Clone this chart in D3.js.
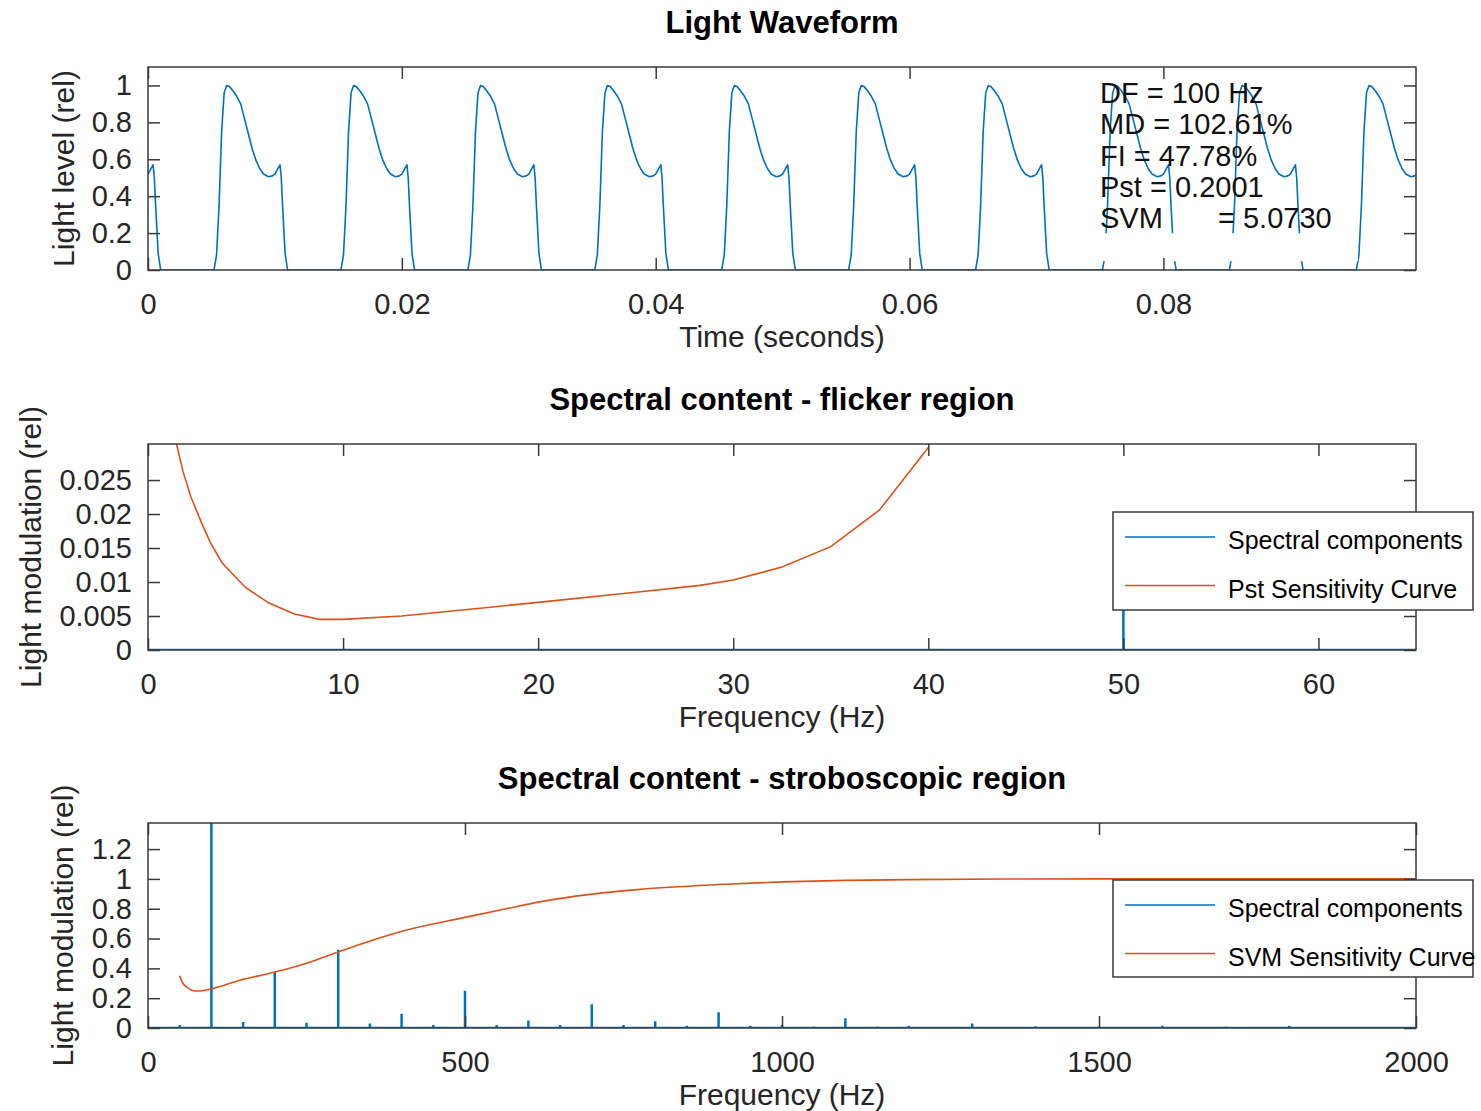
<!DOCTYPE html>
<html>
<head>
<meta charset="utf-8">
<script src="https://cdn.jsdelivr.net/npm/d3@7"></script>
<style>
  body { margin: 0; background: #fff; }
  svg { display: block; }
  text { font-family: "Liberation Sans", Arial, Helvetica, sans-serif; }
</style>
</head>
<body>
<svg id="chart" width="1481" height="1111"></svg>
<script>
// ---------- Light waveform (time in ms, level relative) ----------
const waveTimeMs = [
  0.0,0.2,0.4,0.5,0.6,0.8,1.0,5.2,5.4,5.6,5.8,6.0,6.2,6.4,6.7,7.0,7.3,7.6,7.9,8.2,8.5,8.8,9.1,9.5,9.8,
  10.0,10.2,10.4,10.5,10.6,10.8,11.0,15.2,15.4,15.6,15.8,16.0,16.2,16.4,16.7,17.0,17.3,17.6,17.9,18.2,18.5,18.8,19.1,19.5,19.8,
  20.0,20.2,20.4,20.5,20.6,20.8,21.0,25.2,25.4,25.6,25.8,26.0,26.2,26.4,26.7,27.0,27.3,27.6,27.9,28.2,28.5,28.8,29.1,29.5,29.8,
  30.0,30.2,30.4,30.5,30.6,30.8,31.0,35.2,35.4,35.6,35.8,36.0,36.2,36.4,36.7,37.0,37.3,37.6,37.9,38.2,38.5,38.8,39.1,39.5,39.8,
  40.0,40.2,40.4,40.5,40.6,40.8,41.0,45.2,45.4,45.6,45.8,46.0,46.2,46.4,46.7,47.0,47.3,47.6,47.9,48.2,48.5,48.8,49.1,49.5,49.8,
  50.0,50.2,50.4,50.5,50.6,50.8,51.0,55.2,55.4,55.6,55.8,56.0,56.2,56.4,56.7,57.0,57.3,57.6,57.9,58.2,58.5,58.8,59.1,59.5,59.8,
  60.0,60.2,60.4,60.5,60.6,60.8,61.0,65.2,65.4,65.6,65.8,66.0,66.2,66.4,66.7,67.0,67.3,67.6,67.9,68.2,68.5,68.8,69.1,69.5,69.8,
  70.0,70.2,70.4,70.5,70.6,70.8,71.0,75.2,75.4,75.6,75.8,76.0,76.2,76.4,76.7,77.0,77.3,77.6,77.9,78.2,78.5,78.8,79.1,79.5,79.8,
  80.0,80.2,80.4,80.5,80.6,80.8,81.0,85.2,85.4,85.6,85.8,86.0,86.2,86.4,86.7,87.0,87.3,87.6,87.9,88.2,88.5,88.8,89.1,89.5,89.8,
  90.0,90.2,90.4,90.5,90.6,90.8,91.0,95.2,95.4,95.6,95.8,96.0,96.2,96.4,96.7,97.0,97.3,97.6,97.9,98.2,98.5,98.8,99.1,99.5,99.8,
  99.9
];
const waveLevel = [
  0.52,0.545,0.57,0.50,0.35,0.09,0,0,0.08,0.35,0.75,0.96,1.0,0.995,0.97,0.94,0.90,0.82,0.74,0.66,0.595,0.55,0.52,0.505,0.51,
  0.52,0.545,0.57,0.50,0.35,0.09,0,0,0.08,0.35,0.75,0.96,1.0,0.995,0.97,0.94,0.90,0.82,0.74,0.66,0.595,0.55,0.52,0.505,0.51,
  0.52,0.545,0.57,0.50,0.35,0.09,0,0,0.08,0.35,0.75,0.96,1.0,0.995,0.97,0.94,0.90,0.82,0.74,0.66,0.595,0.55,0.52,0.505,0.51,
  0.52,0.545,0.57,0.50,0.35,0.09,0,0,0.08,0.35,0.75,0.96,1.0,0.995,0.97,0.94,0.90,0.82,0.74,0.66,0.595,0.55,0.52,0.505,0.51,
  0.52,0.545,0.57,0.50,0.35,0.09,0,0,0.08,0.35,0.75,0.96,1.0,0.995,0.97,0.94,0.90,0.82,0.74,0.66,0.595,0.55,0.52,0.505,0.51,
  0.52,0.545,0.57,0.50,0.35,0.09,0,0,0.08,0.35,0.75,0.96,1.0,0.995,0.97,0.94,0.90,0.82,0.74,0.66,0.595,0.55,0.52,0.505,0.51,
  0.52,0.545,0.57,0.50,0.35,0.09,0,0,0.08,0.35,0.75,0.96,1.0,0.995,0.97,0.94,0.90,0.82,0.74,0.66,0.595,0.55,0.52,0.505,0.51,
  0.52,0.545,0.57,0.50,0.35,0.09,0,0,0.08,0.35,0.75,0.96,1.0,0.995,0.97,0.94,0.90,0.82,0.74,0.66,0.595,0.55,0.52,0.505,0.51,
  0.52,0.545,0.57,0.50,0.35,0.09,0,0,0.08,0.35,0.75,0.96,1.0,0.995,0.97,0.94,0.90,0.82,0.74,0.66,0.595,0.55,0.52,0.505,0.51,
  0.52,0.545,0.57,0.50,0.35,0.09,0,0,0.08,0.35,0.75,0.96,1.0,0.995,0.97,0.94,0.90,0.82,0.74,0.66,0.595,0.55,0.52,0.505,0.51,
  0.515
];

// ---------- Flicker metrics shown on the waveform ----------
const metricNames  = ["DF", "MD", "FI", "Pst", "SVM"];
const metricValues = ["100 Hz", "102.61%", "47.78%", "0.2001", "5.0730"];

// ---------- Spectral components (harmonics of the light waveform) ----------
const harmonicFreqHz = [50,100,150,200,250,300,350,400,450,500,550,600,650,700,750,800,850,900,950,1000,
  1050,1100,1150,1200,1250,1300,1350,1400,1450,1500,1550,1600,1650,1700,1750,1800,1850,1900,1950];
const harmonicAmp = [0.02,1.375,0.04,0.375,0.035,0.525,0.03,0.095,0.02,0.25,0.02,0.05,0.02,0.16,0.02,0.045,0.015,0.105,0.015,0.02,
  0.01,0.065,0.01,0.015,0.008,0.03,0.005,0.012,0.005,0.01,0.005,0.015,0.005,0.01,0.005,0.015,0.005,0.008,0.004];

// ---------- Pst sensitivity curve ----------
const pstFreqHz = [1.4,1.8,2.2,2.7,3.2,3.8,5.0,6.2,7.5,8.8,10,13,16.5,20,25,28.3,30,32.5,35,37.5,40];
const pstLevel  = [0.0310,0.0262,0.0225,0.0190,0.0158,0.0128,0.0092,0.0069,0.0053,0.0045,0.0045,0.0050,0.0060,0.0070,0.0085,0.0095,0.0103,0.0122,0.0152,0.0206,0.0298];

// ---------- SVM sensitivity curve ----------
const svmFreqHz = [50,55,61,68,75,85,100,145,200,250,300,355,408,500,565,618,697,776,900,1000,1100,1200,1350,1500,1750,2000];
const svmLevel  = [0.35,0.30,0.275,0.255,0.248,0.25,0.262,0.32,0.375,0.435,0.51,0.59,0.657,0.742,0.80,0.846,0.896,0.93,0.962,0.98,0.99,0.995,0.999,1.0,1.0,1.0];

// ---------- Axis ticks ----------
const waveXTicks = [0, 0.02, 0.04, 0.06, 0.08];
const waveXTickLabels = ["0", "0.02", "0.04", "0.06", "0.08"];
const waveYTicks = [0, 0.2, 0.4, 0.6, 0.8, 1];
const waveYTickLabels = ["0", "0.2", "0.4", "0.6", "0.8", "1"];
const flickXTicks = [0, 10, 20, 30, 40, 50, 60];
const flickXTickLabels = ["0", "10", "20", "30", "40", "50", "60"];
const flickYTicks = [0, 0.005, 0.01, 0.015, 0.02, 0.025];
const flickYTickLabels = ["0", "0.005", "0.01", "0.015", "0.02", "0.025"];
const stroXTicks = [0, 500, 1000, 1500, 2000];
const stroXTickLabels = ["0", "500", "1000", "1500", "2000"];
const stroYTicks = [0, 0.2, 0.4, 0.6, 0.8, 1, 1.2];
const stroYTickLabels = ["0", "0.2", "0.4", "0.6", "0.8", "1", "1.2"];

// ---------- Styling ----------
const BLUE = "#0072BD", ORANGE = "#D95319", AX = "#262626";
const FRAME = "#3a3a3a";
const TICK_FONT = 29, LABEL_FONT = 30, TITLE_FONT = 31, LEGEND_FONT = 25;
const TICK_LEN = 12;
const LEFT = 148, RIGHT = 1416;

const svg = d3.select("#chart");
let clipId = 0;

function makePanel(cfg) {
  const g = svg.append("g");
  const x = d3.scaleLinear().domain(cfg.xDomain).range([LEFT, RIGHT]);
  const y = d3.scaleLinear().domain(cfg.yDomain).range([cfg.bottom, cfg.top]);

  const id = "clip" + (clipId++);
  g.append("clipPath").attr("id", id)
    .append("rect")
    .attr("x", LEFT).attr("y", cfg.top)
    .attr("width", RIGHT - LEFT).attr("height", cfg.bottom - cfg.top);

  const plot = g.append("g").attr("clip-path", `url(#${id})`);
  const axes = g.append("g");

  const fmt = (labels, vals) => (d) => labels[vals.indexOf(d)];

  // bottom axis (labels) with inward ticks
  const bx = axes.append("g").attr("transform", `translate(0,${cfg.bottom})`)
    .call(d3.axisBottom(x).tickValues(cfg.xTicks).tickFormat(fmt(cfg.xTickLabels, cfg.xTicks))
      .tickSizeInner(-TICK_LEN).tickSizeOuter(0).tickPadding(23.5));
  // top axis ticks only
  const tx = axes.append("g").attr("transform", `translate(0,${cfg.top})`)
    .call(d3.axisTop(x).tickValues(cfg.xTicks).tickFormat("")
      .tickSizeInner(-TICK_LEN).tickSizeOuter(0));
  // left axis (labels)
  const ly = axes.append("g").attr("transform", `translate(${LEFT},0)`)
    .call(d3.axisLeft(y).tickValues(cfg.yTicks).tickFormat(fmt(cfg.yTickLabels, cfg.yTicks))
      .tickSizeInner(-TICK_LEN).tickSizeOuter(0).tickPadding(16));
  // right axis ticks only
  const ry = axes.append("g").attr("transform", `translate(${RIGHT},0)`)
    .call(d3.axisRight(y).tickValues(cfg.yTicks).tickFormat("")
      .tickSizeInner(-TICK_LEN).tickSizeOuter(0));

  [bx, tx, ly, ry].forEach(a => {
    a.select(".domain").remove();
    a.selectAll(".tick line").attr("stroke", FRAME).attr("stroke-width", 1.5);
    a.selectAll(".tick text").attr("fill", AX).style("font-size", TICK_FONT + "px")
      .style("font-family", '"Liberation Sans", Arial, sans-serif');
  });

  // frame box
  axes.append("rect")
    .attr("x", LEFT).attr("y", cfg.top)
    .attr("width", RIGHT - LEFT).attr("height", cfg.bottom - cfg.top)
    .attr("fill", "none").attr("stroke", FRAME).attr("stroke-width", 1.5);

  // title
  g.append("text")
    .attr("x", (LEFT + RIGHT) / 2).attr("y", cfg.top - 34)
    .attr("text-anchor", "middle")
    .style("font-size", TITLE_FONT + "px").style("font-weight", "bold")
    .attr("fill", "#000")
    .text(cfg.title);

  // x label
  g.append("text")
    .attr("x", (LEFT + RIGHT) / 2).attr("y", cfg.bottom + 77)
    .attr("text-anchor", "middle")
    .style("font-size", LABEL_FONT + "px").attr("fill", AX)
    .text(cfg.xLabel);

  // y label
  g.append("text")
    .attr("transform", `translate(${cfg.yLabelX},${(cfg.top + cfg.bottom) / 2}) rotate(-90)`)
    .attr("text-anchor", "middle")
    .style("font-size", LABEL_FONT + "px").attr("fill", AX)
    .text(cfg.yLabel);

  return { g, plot, axes, x, y };
}

function legend(parent, box, entries) {
  const lg = parent.append("g");
  lg.append("rect")
    .attr("x", box.x).attr("y", box.y).attr("width", box.w).attr("height", box.h)
    .attr("fill", "#fff").attr("stroke", FRAME).attr("stroke-width", 1.5);
  entries.forEach((e, i) => {
    const cy = box.y + 25 + i * 48.5;
    lg.append("line")
      .attr("x1", box.x + 12).attr("x2", box.x + 102)
      .attr("y1", cy).attr("y2", cy)
      .attr("stroke", e.color).attr("stroke-width", 1.5);
    lg.append("text")
      .attr("x", box.x + 115).attr("y", cy + 12)
      .style("font-size", LEGEND_FONT + "px").attr("fill", "#000")
      .text(e.label);
  });
}

// stem-style spectrum path (baseline with vertical components) from harmonic data
function spectrumPoints(xMax) {
  const pts = [[0, 0]];
  harmonicFreqHz.forEach((f, i) => {
    if (f <= xMax) { pts.push([f, 0], [f, harmonicAmp[i]], [f, 0]); }
  });
  pts.push([xMax, 0]);
  return pts;
}

// ================= Panel 1: Light Waveform =================
const p1 = makePanel({
  top: 67, bottom: 270,
  xDomain: [0, 0.0999], yDomain: [0, 1.1],
  xTicks: waveXTicks, xTickLabels: waveXTickLabels,
  yTicks: waveYTicks, yTickLabels: waveYTickLabels,
  title: "Light Waveform", xLabel: "Time (seconds)", yLabel: "Light level (rel)",
  yLabelX: 74
});
const waveData = waveTimeMs.map((t, i) => [t / 1000, waveLevel[i]]);
p1.plot.append("path")
  .datum(waveData)
  .attr("fill", "none").attr("stroke", BLUE).attr("stroke-width", 1.6)
  .attr("stroke-linejoin", "round")
  .attr("d", d3.line().x(d => p1.x(d[0])).y(d => p1.y(d[1])));

// metrics annotation
const annX = 1100, annY0 = 103, annStep = 31.3;
// blank band below the last annotation line
p1.plot.append("rect")
  .attr("x", annX - 2).attr("y", annY0 + annStep * 4 + 5)
  .attr("width", 260).attr("height", 28)
  .attr("fill", "#fff");
metricNames.forEach((name, i) => {
  const t = p1.g.append("text")
    .attr("x", annX).attr("y", annY0 + i * annStep)
    .style("font-size", "29px").attr("fill", "#111");
  if (name === "SVM") {
    t.append("tspan").text(name);
    t.append("tspan").attr("x", 1218).text("= " + metricValues[i]);
  } else {
    t.text(name + " = " + metricValues[i]);
  }
});

// ================= Panel 2: flicker region =================
const p2 = makePanel({
  top: 444, bottom: 650,
  xDomain: [0, 65], yDomain: [0, 0.0303],
  xTicks: flickXTicks, xTickLabels: flickXTickLabels,
  yTicks: flickYTicks, yTickLabels: flickYTickLabels,
  title: "Spectral content - flicker region", xLabel: "Frequency (Hz)", yLabel: "Light modulation (rel)",
  yLabelX: 41
});
p2.plot.append("path")
  .datum(spectrumPoints(65))
  .attr("fill", "none").attr("stroke", BLUE).attr("stroke-width", 2.5)
  .attr("d", d3.line().x(d => p2.x(d[0])).y(d => p2.y(d[1])));
p2.plot.append("path")
  .datum(pstFreqHz.map((f, i) => [f, pstLevel[i]]))
  .attr("fill", "none").attr("stroke", ORANGE).attr("stroke-width", 1.6)
  .attr("d", d3.line().x(d => p2.x(d[0])).y(d => p2.y(d[1])));
p2.axes.raise();
legend(p2.g, { x: 1113, y: 512, w: 360, h: 98 }, [
  { label: "Spectral components", color: BLUE },
  { label: "Pst Sensitivity Curve", color: ORANGE }
]);

// ================= Panel 3: stroboscopic region =================
const p3 = makePanel({
  top: 823, bottom: 1028,
  xDomain: [0, 2000], yDomain: [0, 1.375],
  xTicks: stroXTicks, xTickLabels: stroXTickLabels,
  yTicks: stroYTicks, yTickLabels: stroYTickLabels,
  title: "Spectral content - stroboscopic region", xLabel: "Frequency (Hz)", yLabel: "Light modulation (rel)",
  yLabelX: 73
});
p3.plot.append("path")
  .datum(spectrumPoints(2000))
  .attr("fill", "none").attr("stroke", BLUE).attr("stroke-width", 2.5)
  .attr("d", d3.line().x(d => p3.x(d[0])).y(d => p3.y(d[1])));
p3.plot.append("path")
  .datum(svmFreqHz.map((f, i) => [f, svmLevel[i]]))
  .attr("fill", "none").attr("stroke", ORANGE).attr("stroke-width", 1.6)
  .attr("d", d3.line().curve(d3.curveMonotoneX).x(d => p3.x(d[0])).y(d => p3.y(d[1])));
p3.axes.raise();
legend(p3.g, { x: 1113, y: 880, w: 360, h: 97 }, [
  { label: "Spectral components", color: BLUE },
  { label: "SVM Sensitivity Curve", color: ORANGE }
]);
</script>
</body>
</html>
